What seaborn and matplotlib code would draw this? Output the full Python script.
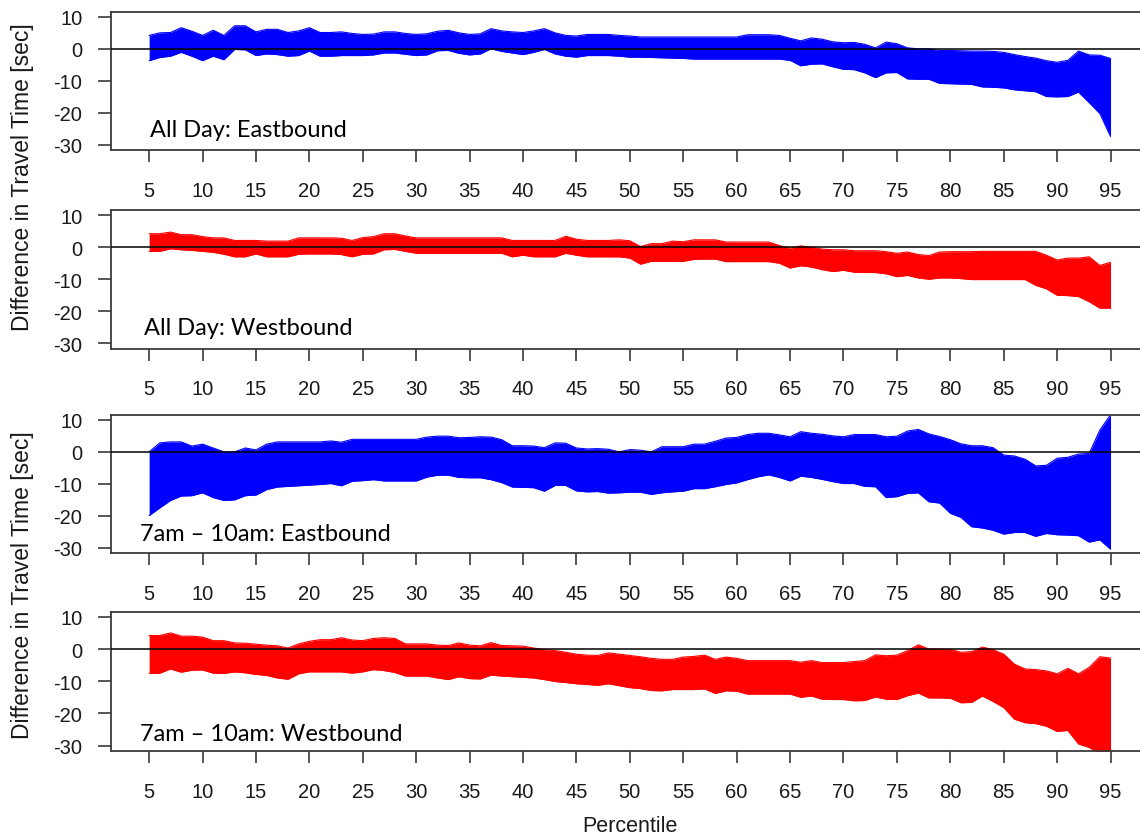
import matplotlib
matplotlib.use("Agg")
import matplotlib.pyplot as plt
import pandas as pd
import seaborn as sns

# Percentile grid shared by every panel
percentiles = list(range(5, 96))

# All day, eastbound: band of travel-time difference (sec)
eb_allday_upper = [
    4.2, 5.0, 5.1, 6.6, 5.5, 4.2, 5.8, 4.2, 7.2, 7.2,
    5.3, 6.1, 6.1, 5.1, 5.6, 6.6, 5.1, 5.1, 5.3, 4.8,
    4.5, 4.6, 5.3, 5.3, 4.8, 4.5, 4.7, 5.5, 5.8, 5.0,
    4.5, 4.7, 6.3, 5.6, 5.3, 5.1, 5.6, 6.3, 5.0, 4.2,
    4.0, 4.5, 4.5, 4.5, 4.2, 4.0,
    3.7, 3.7, 3.7, 3.7, 3.7, 3.7, 3.7, 3.7, 3.7, 3.7,
    4.4, 4.4, 4.4, 4.2, 3.3, 2.5, 3.4, 3.0, 2.2, 1.9,
    2.0, 1.4, 0.3, 2.1, 1.6, 0.3, 0.0, 0.0, -0.5, -0.5,
    -0.6, -0.7, -0.7, -0.8, -1.1, -1.8, -2.4, -2.9, -3.7, -4.2,
    -3.6, -0.7, -1.9, -2.0, -3.0,
]
eb_allday_lower = [
    -3.7, -2.7, -2.3, -1.1, -2.3, -3.7, -2.3, -3.4, -0.2, -0.3,
    -2.1, -1.6, -1.8, -2.3, -2.1, -0.7, -2.3, -2.3, -2.1, -2.1,
    -2.1, -1.9, -1.3, -1.3, -1.7, -2.1, -1.9, -0.6, -0.5, -1.4,
    -1.9, -1.6, 0.0, -0.8, -1.3, -1.8, -1.1, -0.2, -1.6, -2.3,
    -2.6, -2.1, -2.1, -2.1, -2.3, -2.6,
    -2.6, -2.7, -2.8, -2.9, -3.0, -3.2, -3.2, -3.2, -3.2, -3.2,
    -3.2, -3.2, -3.2, -3.2, -3.6, -5.3, -4.8, -4.7, -5.6, -6.4,
    -6.5, -7.5, -9.0, -7.5, -7.4, -9.4, -9.5, -9.5, -10.8, -10.9,
    -11.0, -11.1, -11.9, -12.0, -12.2, -12.8, -13.1, -13.4, -14.9, -15.0,
    -14.9, -13.5, -16.8, -20.2, -27.4,
]

# All day, westbound
wb_allday_upper = [
    4.2, 4.2, 4.7, 3.9, 3.9, 3.3, 2.9, 2.9, 2.1, 2.1,
    2.1, 1.9, 1.9, 1.9, 2.9, 2.9, 2.9, 2.9, 2.8, 2.1,
    3.0, 3.3, 4.2, 4.2, 3.5, 2.9, 2.9, 2.9, 2.9, 2.9,
    2.9, 2.9, 2.9, 2.9, 2.1, 2.1, 2.1, 2.1, 2.1, 3.4,
    2.5, 2.1, 2.1, 2.1, 2.3, 2.0,
    0.2, 1.1, 1.1, 1.9, 1.7, 2.3, 2.3, 2.3, 1.6, 1.6,
    1.6, 1.6, 1.6, 0.5, -0.3, 0.4, 0.0, -0.6, -0.8, -0.8,
    -1.1, -1.1, -1.1, -1.4, -1.9, -1.5, -2.3, -2.6, -1.5, -1.4,
    -1.4, -1.4, -1.3, -1.3, -1.3, -1.3, -1.3, -1.3, -2.5, -4.0,
    -3.4, -3.4, -3.0, -5.7, -4.7,
]
wb_allday_lower = [
    -1.3, -1.3, -0.5, -0.8, -1.0, -1.3, -1.6, -2.2, -3.0, -3.0,
    -2.1, -3.0, -3.0, -3.0, -2.2, -2.1, -2.1, -2.1, -2.3, -3.0,
    -2.2, -2.1, -0.8, -0.7, -1.3, -1.9, -1.9, -1.9, -1.9, -1.9,
    -1.9, -1.9, -1.9, -1.9, -3.0, -2.5, -3.0, -3.0, -3.0, -1.9,
    -2.5, -3.0, -3.0, -3.0, -3.0, -3.4,
    -5.3, -4.4, -4.4, -4.4, -4.4, -3.8, -3.7, -3.7, -4.5, -4.5,
    -4.5, -4.5, -4.5, -5.0, -6.5, -5.8, -6.2, -7.0, -7.6, -7.2,
    -7.8, -7.9, -7.9, -8.3, -9.2, -8.8, -9.6, -10.0, -9.6, -9.6,
    -9.8, -10.1, -10.1, -10.1, -10.1, -10.1, -10.1, -11.9, -13.0, -15.0,
    -15.1, -15.4, -17.0, -19.0, -19.0,
]

# 7am - 10am, eastbound
eb_am_upper = [
    0.0, 2.8, 3.1, 3.1, 1.8, 2.4, 1.2, 0.0, 0.0, 1.2,
    0.6, 2.4, 3.1, 3.1, 3.1, 3.1, 3.1, 3.4, 3.0, 3.9,
    3.9, 3.9, 3.9, 3.9, 3.9, 3.9, 4.6, 4.9, 4.9, 4.4,
    4.5, 4.7, 4.6, 3.8, 1.9, 1.9, 1.8, 1.3, 2.8, 2.7,
    1.2, 0.9, 1.0, 0.8, 0.0, 0.7,
    0.5, 0.0, 1.6, 1.6, 1.6, 2.4, 2.4, 3.3, 4.3, 4.5,
    5.4, 5.8, 5.8, 5.3, 4.7, 6.3, 5.8, 5.5, 5.0, 4.7,
    5.4, 5.4, 5.4, 4.7, 4.9, 6.5, 7.0, 5.6, 4.8, 3.8,
    2.5, 1.9, 1.9, 1.3, -1.0, -1.3, -2.3, -4.4, -4.2, -2.0,
    -1.7, -0.7, -0.5, 6.8, 11.6,
]
eb_am_lower = [
    -19.9, -17.5, -15.2, -13.8, -13.7, -12.8, -14.3, -15.2, -15.0, -13.7,
    -13.5, -11.8, -11.0, -10.8, -10.6, -10.4, -10.2, -9.9, -10.6, -9.2,
    -9.0, -8.7, -9.1, -9.1, -9.1, -9.1, -7.9, -7.3, -7.3, -8.0,
    -8.1, -8.1, -8.7, -9.6, -11.0, -11.1, -11.2, -12.3, -10.5, -10.5,
    -12.2, -12.5, -12.4, -12.9, -12.8, -12.6,
    -12.6, -13.3, -12.8, -12.5, -12.3, -11.5, -11.5, -10.9, -10.2, -9.7,
    -8.7, -7.8, -7.2, -8.0, -9.1, -7.6, -8.0, -8.6, -9.3, -9.9,
    -9.9, -10.8, -10.9, -14.3, -14.0, -13.0, -12.8, -15.6, -16.0, -19.2,
    -20.5, -23.4, -23.8, -24.5, -25.7, -25.2, -25.2, -26.4, -25.5, -25.9,
    -26.0, -26.2, -28.2, -27.5, -30.4,
]

# 7am - 10am, westbound
wb_am_upper = [
    4.2, 4.2, 5.0, 4.0, 4.0, 3.7, 2.6, 2.6, 1.9, 1.8,
    1.5, 1.2, 1.0, 0.3, 1.6, 2.4, 2.9, 2.9, 3.5, 2.8,
    2.6, 3.3, 3.5, 3.3, 1.6, 1.6, 1.6, 1.2, 1.1, 1.9,
    1.2, 1.0, 2.0, 1.1, 1.0, 0.9, 0.3, -0.2, -0.5, -1.0,
    -1.6, -1.9, -2.0, -1.2, -1.6, -2.0,
    -2.4, -2.9, -3.2, -3.2, -2.5, -2.3, -1.9, -3.2, -2.5, -2.9,
    -3.6, -3.6, -3.6, -3.6, -3.6, -4.1, -3.6, -4.2, -4.2, -4.2,
    -3.9, -3.6, -1.8, -2.1, -1.9, -0.5, 1.3, 0.0, 0.0, -0.1,
    -1.0, -0.8, 0.6, -0.2, -1.6, -4.7, -6.2, -6.4, -6.8, -7.7,
    -6.0, -7.7, -5.7, -2.4, -2.8,
]
wb_am_lower = [
    -7.6, -7.5, -6.2, -7.2, -6.6, -6.5, -7.5, -7.6, -7.1, -7.4,
    -7.9, -8.2, -9.0, -9.4, -7.7, -7.1, -7.1, -7.1, -7.1, -7.5,
    -7.1, -6.4, -6.7, -7.3, -8.4, -8.4, -8.4, -9.0, -9.5, -8.6,
    -9.2, -9.3, -8.1, -8.4, -8.6, -8.8, -9.0, -9.5, -10.1, -10.4,
    -10.8, -11.0, -11.3, -10.8, -11.4, -12.0,
    -12.3, -12.9, -13.0, -12.6, -12.6, -12.6, -12.4, -13.8, -13.0, -13.1,
    -14.0, -14.0, -14.0, -14.0, -14.0, -15.0, -14.6, -15.6, -15.7, -15.7,
    -16.1, -16.0, -14.9, -15.6, -15.7, -14.5, -13.7, -15.2, -15.2, -15.3,
    -16.7, -16.6, -14.6, -16.3, -18.2, -21.8, -22.9, -23.2, -24.0, -25.6,
    -25.3, -29.5, -30.6, -32.5, -33.0,
]

panel_labels = [
    "All Day: Eastbound",
    "All Day: Westbound",
    "7am \u2013 10am: Eastbound",
    "7am \u2013 10am: Westbound",
]
panel_colors = ["#0000FF", "#FF0000", "#0000FF", "#FF0000"]
x_ticks = list(range(5, 96, 5))
y_ticks = [10, 0, -10, -20, -30]
y_title = "Difference in Travel Time [sec]"
x_title = "Percentile"

bands = [
    (eb_allday_lower, eb_allday_upper),
    (wb_allday_lower, wb_allday_upper),
    (eb_am_lower, eb_am_upper),
    (wb_am_lower, wb_am_upper),
]

sns.set_theme(style="ticks")
plt.rcParams["font.family"] = ["Liberation Sans", "DejaVu Sans"]
plt.rcParams["axes.unicode_minus"] = False

W, H = 1140, 837
fig = plt.figure(figsize=(W / 100, H / 100), dpi=100)
fig.patch.set_facecolor("white")

# panel boxes in pixels (top, bottom); the plot region runs past the right edge
box_left, box_right = 110.7, 1149.0
box_rows = [(12.7, 151.0), (211.0, 349.5), (415.7, 554.0), (612.7, 751.7)]
label_pos = [(5.1, -27.2), (4.5, -27.2), (4.1, -27.4), (4.1, -28.4)]

axes = []
for i, ((top, bottom), (lower, upper)) in enumerate(zip(box_rows, bands)):
    ax = fig.add_axes([box_left / W, 1 - bottom / H,
                       (box_right - box_left) / W, (bottom - top) / H])
    df = pd.DataFrame({"percentile": percentiles, "lower": lower, "upper": upper})
    color = panel_colors[i]
    ax.fill_between(df["percentile"], df["lower"], df["upper"],
                    color=color, lw=0, zorder=2)
    for col in ("lower", "upper"):
        sns.lineplot(data=df, x="percentile", y=col, color=color,
                     lw=0.8, ax=ax, zorder=2)
    ax.axhline(0, color="black", lw=1.1, zorder=3)

    ax.set_xlim(1.4, 98.6)
    ax.set_ylim(-31.6, 11.6)
    ax.set_xticks(x_ticks)
    ax.set_yticks(y_ticks)
    ax.set_xlabel("")
    ax.set_ylabel("")
    for side in ("left", "top", "bottom", "right"):
        ax.spines[side].set_visible(True)
        ax.spines[side].set_color("#3a3a3a")
        ax.spines[side].set_linewidth(1.3)
    ax.tick_params(axis="both", direction="out", width=1.2, color="#3a3a3a",
                   labelsize=14.5, labelcolor="#1a1a1a")
    ax.tick_params(axis="x", length=8.3, pad=14)
    ax.tick_params(axis="y", length=9.4, pad=11)
    ax.set_facecolor("white")

    lx, ly = label_pos[i]
    ax.text(lx, ly, panel_labels[i], family=["Lato", "DejaVu Sans"],
            fontsize=17, color="black", ha="left", va="baseline", zorder=4)
    axes.append(ax)

# shared axis titles
fig.text(23 / W, 1 - 176.7 / H, y_title, rotation=90, ha="center", va="center",
         fontsize=16.5, color="#1a1a1a")
fig.text(23 / W, 1 - 585.5 / H, y_title, rotation=90, ha="center", va="center",
         fontsize=16.5, color="#1a1a1a")
fig.text(630 / W, 1 - 827 / H, x_title, ha="center", va="center",
         fontsize=15.5, color="#1a1a1a")

fig.savefig("out.png", dpi=100, facecolor="white")
